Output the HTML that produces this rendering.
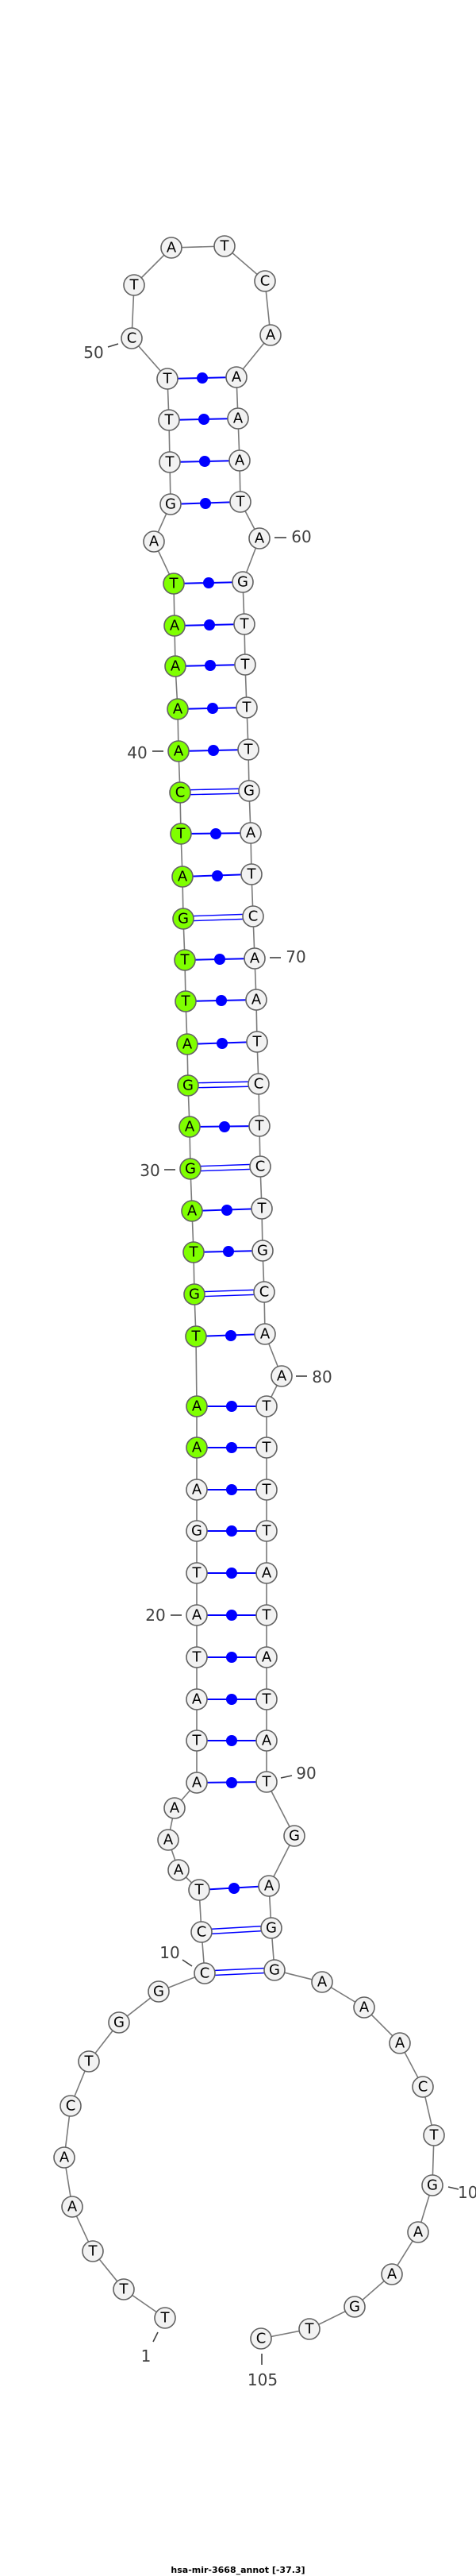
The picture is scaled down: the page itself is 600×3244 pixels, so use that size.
<!DOCTYPE html>
<html><head><meta charset="utf-8"><style>
html,body{margin:0;padding:0;background:#fff;}
svg{display:block;}
.bb{stroke:#7a7a7a;stroke-width:1.6;fill:none;}
.pr{stroke:#0000ff;stroke-width:2;}
.pd{stroke:#0000ff;stroke-width:1.4;}
.dt{fill:#0000ff;}
.n circle{fill:#f2f2f2;stroke:#626262;stroke-width:1.6;}
.n circle.g{fill:#7fff00;}
.n text{font-family:"DejaVu Sans","Liberation Sans",sans-serif;font-size:18px;text-anchor:middle;dominant-baseline:central;fill:#000;}
.lb{font-family:"DejaVu Sans","Liberation Sans",sans-serif;font-size:20px;fill:#404040;text-anchor:middle;dominant-baseline:central;}
.tk{stroke:#404040;stroke-width:1.6;}
.tt{font-family:"DejaVu Sans","Liberation Sans",sans-serif;font-size:11px;font-weight:bold;fill:#000;text-anchor:middle;}
</style></head><body>
<svg width="600" height="3244" viewBox="0 0 600 3244" xmlns="http://www.w3.org/2000/svg">
<polyline class="bb" points="208,2919 156,2883 117,2835 91,2779 81,2717 89,2652 112,2596 150,2547 200,2508 258,2485 254,2433 251,2380 225,2355 212,2317 220,2277 248,2245 248,2192 248,2140 248,2087 248,2034 248,1981 248,1928 248,1876 248,1823 248,1771 247,1683 245,1630 244,1577 242,1525 240,1472 239,1419 237,1367 236,1315 234,1261 233,1209 231,1157 230,1104 228,1050 227,998 225,946 224,893 221,839 220,788 219,735 194,682 215,635 214,582 213,529 211,477 166,426 169,359 216,312 283,310 334,354 341,422 298,475 300,527 302,580 303,632 327,678 306,733 308,786 309,837 311,891 313,944 314,996 316,1049 317,1101 319,1154 321,1207 323,1259 324,1312 326,1365 327,1418 328,1469 330,1522 331,1575 333,1627 334,1680 355,1733 336,1771 336,1823 336,1876 336,1928 336,1981 336,2034 336,2087 336,2140 336,2192 336,2244 371,2312 339,2375 342,2428 346,2481 406,2496 459,2528 504,2573 533,2628 547,2689 545,2752 527,2811 494,2864 447,2905 390,2933 329,2945"/>
<!-- double pairs (GC) -->
<g class="pd">
<line x1="258" y1="2482" x2="346" y2="2478"/><line x1="258" y1="2488" x2="346" y2="2484"/>
<line x1="254" y1="2430" x2="342" y2="2425"/><line x1="254" y1="2436" x2="342" y2="2431"/>
<line x1="245" y1="1627" x2="333" y2="1624"/><line x1="245" y1="1633" x2="333" y2="1630"/>
<line x1="240" y1="1469" x2="328" y2="1466"/><line x1="240" y1="1475" x2="328" y2="1472"/>
<line x1="237" y1="1364" x2="326" y2="1362"/><line x1="237" y1="1370" x2="326" y2="1368"/>
<line x1="231" y1="1154" x2="319" y2="1151"/><line x1="231" y1="1160" x2="319" y2="1157"/>
<line x1="227" y1="995" x2="314" y2="993"/><line x1="227" y1="1001" x2="314" y2="999"/>
</g>
<!-- dot pairs -->
<g class="pr">
<line x1="251" y1="2380" x2="339" y2="2375"/>
<line x1="248" y1="2245" x2="336" y2="2244"/>
<line x1="248" y1="2192" x2="336" y2="2192"/>
<line x1="248" y1="2140" x2="336" y2="2140"/>
<line x1="248" y1="2087" x2="336" y2="2087"/>
<line x1="248" y1="2034" x2="336" y2="2034"/>
<line x1="248" y1="1981" x2="336" y2="1981"/>
<line x1="248" y1="1928" x2="336" y2="1928"/>
<line x1="248" y1="1876" x2="336" y2="1876"/>
<line x1="248" y1="1823" x2="336" y2="1823"/>
<line x1="248" y1="1771" x2="336" y2="1771"/>
<line x1="247" y1="1683" x2="334" y2="1680"/>
<line x1="244" y1="1577" x2="331" y2="1575"/>
<line x1="242" y1="1525" x2="330" y2="1522"/>
<line x1="239" y1="1419" x2="327" y2="1418"/>
<line x1="236" y1="1315" x2="324" y2="1312"/>
<line x1="234" y1="1261" x2="323" y2="1259"/>
<line x1="233" y1="1209" x2="321" y2="1207"/>
<line x1="230" y1="1104" x2="317" y2="1101"/>
<line x1="228" y1="1050" x2="316" y2="1049"/>
<line x1="225" y1="946" x2="313" y2="944"/>
<line x1="224" y1="893" x2="311" y2="891"/>
<line x1="221" y1="839" x2="309" y2="837"/>
<line x1="220" y1="788" x2="308" y2="786"/>
<line x1="219" y1="735" x2="306" y2="733"/>
<line x1="215" y1="635" x2="303" y2="632"/>
<line x1="214" y1="582" x2="302" y2="580"/>
<line x1="213" y1="529" x2="300" y2="527"/>
<line x1="211" y1="477" x2="298" y2="475"/>
</g>
<g class="dt">
<circle cx="295" cy="2378" r="7"/>
<circle cx="292" cy="2245" r="7"/><circle cx="292" cy="2192" r="7"/><circle cx="292" cy="2140" r="7"/><circle cx="292" cy="2087" r="7"/><circle cx="292" cy="2034" r="7"/><circle cx="292" cy="1981" r="7"/><circle cx="292" cy="1928" r="7"/><circle cx="292" cy="1876" r="7"/><circle cx="292" cy="1823" r="7"/><circle cx="292" cy="1771" r="7"/>
<circle cx="291" cy="1682" r="7"/><circle cx="288" cy="1576" r="7"/><circle cx="286" cy="1524" r="7"/><circle cx="283" cy="1419" r="7"/><circle cx="280" cy="1314" r="7"/><circle cx="279" cy="1260" r="7"/><circle cx="277" cy="1208" r="7"/><circle cx="274" cy="1103" r="7"/><circle cx="272" cy="1050" r="7"/><circle cx="269" cy="945" r="7"/><circle cx="268" cy="892" r="7"/><circle cx="265" cy="838" r="7"/><circle cx="264" cy="787" r="7"/><circle cx="263" cy="734" r="7"/><circle cx="259" cy="634" r="7"/><circle cx="258" cy="581" r="7"/><circle cx="257" cy="528" r="7"/><circle cx="255" cy="476" r="7"/>
</g>
<!-- nodes -->
<g class="n">
<circle cx="208" cy="2919" r="13"/><text x="208" y="2919">T</text>
<circle cx="156" cy="2883" r="13"/><text x="156" y="2883">T</text>
<circle cx="117" cy="2835" r="13"/><text x="117" y="2835">T</text>
<circle cx="91" cy="2779" r="13"/><text x="91" y="2779">A</text>
<circle cx="81" cy="2717" r="13"/><text x="81" y="2717">A</text>
<circle cx="89" cy="2652" r="13"/><text x="89" y="2652">C</text>
<circle cx="112" cy="2596" r="13"/><text x="112" y="2596">T</text>
<circle cx="150" cy="2547" r="13"/><text x="150" y="2547">G</text>
<circle cx="200" cy="2508" r="13"/><text x="200" y="2508">G</text>
<circle cx="258" cy="2485" r="13"/><text x="258" y="2485">C</text>
<circle cx="254" cy="2433" r="13"/><text x="254" y="2433">C</text>
<circle cx="251" cy="2380" r="13"/><text x="251" y="2380">T</text>
<circle cx="225" cy="2355" r="13"/><text x="225" y="2355">A</text>
<circle cx="212" cy="2317" r="13"/><text x="212" y="2317">A</text>
<circle cx="220" cy="2277" r="13"/><text x="220" y="2277">A</text>
<circle cx="248" cy="2245" r="13"/><text x="248" y="2245">A</text>
<circle cx="248" cy="2192" r="13"/><text x="248" y="2192">T</text>
<circle cx="248" cy="2140" r="13"/><text x="248" y="2140">A</text>
<circle cx="248" cy="2087" r="13"/><text x="248" y="2087">T</text>
<circle cx="248" cy="2034" r="13"/><text x="248" y="2034">A</text>
<circle cx="248" cy="1981" r="13"/><text x="248" y="1981">T</text>
<circle cx="248" cy="1928" r="13"/><text x="248" y="1928">G</text>
<circle cx="248" cy="1876" r="13"/><text x="248" y="1876">A</text>
<circle class="g" cx="248" cy="1823" r="13"/><text x="248" y="1823">A</text>
<circle class="g" cx="248" cy="1771" r="13"/><text x="248" y="1771">A</text>
<circle class="g" cx="247" cy="1683" r="13"/><text x="247" y="1683">T</text>
<circle class="g" cx="245" cy="1630" r="13"/><text x="245" y="1630">G</text>
<circle class="g" cx="244" cy="1577" r="13"/><text x="244" y="1577">T</text>
<circle class="g" cx="242" cy="1525" r="13"/><text x="242" y="1525">A</text>
<circle class="g" cx="240" cy="1472" r="13"/><text x="240" y="1472">G</text>
<circle class="g" cx="239" cy="1419" r="13"/><text x="239" y="1419">A</text>
<circle class="g" cx="237" cy="1367" r="13"/><text x="237" y="1367">G</text>
<circle class="g" cx="236" cy="1315" r="13"/><text x="236" y="1315">A</text>
<circle class="g" cx="234" cy="1261" r="13"/><text x="234" y="1261">T</text>
<circle class="g" cx="233" cy="1209" r="13"/><text x="233" y="1209">T</text>
<circle class="g" cx="231" cy="1157" r="13"/><text x="231" y="1157">G</text>
<circle class="g" cx="230" cy="1104" r="13"/><text x="230" y="1104">A</text>
<circle class="g" cx="228" cy="1050" r="13"/><text x="228" y="1050">T</text>
<circle class="g" cx="227" cy="998" r="13"/><text x="227" y="998">C</text>
<circle class="g" cx="225" cy="946" r="13"/><text x="225" y="946">A</text>
<circle class="g" cx="224" cy="893" r="13"/><text x="224" y="893">A</text>
<circle class="g" cx="221" cy="839" r="13"/><text x="221" y="839">A</text>
<circle class="g" cx="220" cy="788" r="13"/><text x="220" y="788">A</text>
<circle class="g" cx="219" cy="735" r="13"/><text x="219" y="735">T</text>
<circle cx="194" cy="682" r="13"/><text x="194" y="682">A</text>
<circle cx="215" cy="635" r="13"/><text x="215" y="635">G</text>
<circle cx="214" cy="582" r="13"/><text x="214" y="582">T</text>
<circle cx="213" cy="529" r="13"/><text x="213" y="529">T</text>
<circle cx="211" cy="477" r="13"/><text x="211" y="477">T</text>
<circle cx="166" cy="426" r="13"/><text x="166" y="426">C</text>
<circle cx="169" cy="359" r="13"/><text x="169" y="359">T</text>
<circle cx="216" cy="312" r="13"/><text x="216" y="312">A</text>
<circle cx="283" cy="310" r="13"/><text x="283" y="310">T</text>
<circle cx="334" cy="354" r="13"/><text x="334" y="354">C</text>
<circle cx="341" cy="422" r="13"/><text x="341" y="422">A</text>
<circle cx="298" cy="475" r="13"/><text x="298" y="475">A</text>
<circle cx="300" cy="527" r="13"/><text x="300" y="527">A</text>
<circle cx="302" cy="580" r="13"/><text x="302" y="580">A</text>
<circle cx="303" cy="632" r="13"/><text x="303" y="632">T</text>
<circle cx="327" cy="678" r="13"/><text x="327" y="678">A</text>
<circle cx="306" cy="733" r="13"/><text x="306" y="733">G</text>
<circle cx="308" cy="786" r="13"/><text x="308" y="786">T</text>
<circle cx="309" cy="837" r="13"/><text x="309" y="837">T</text>
<circle cx="311" cy="891" r="13"/><text x="311" y="891">T</text>
<circle cx="313" cy="944" r="13"/><text x="313" y="944">T</text>
<circle cx="314" cy="996" r="13"/><text x="314" y="996">G</text>
<circle cx="316" cy="1049" r="13"/><text x="316" y="1049">A</text>
<circle cx="317" cy="1101" r="13"/><text x="317" y="1101">T</text>
<circle cx="319" cy="1154" r="13"/><text x="319" y="1154">C</text>
<circle cx="321" cy="1207" r="13"/><text x="321" y="1207">A</text>
<circle cx="323" cy="1259" r="13"/><text x="323" y="1259">A</text>
<circle cx="324" cy="1312" r="13"/><text x="324" y="1312">T</text>
<circle cx="326" cy="1365" r="13"/><text x="326" y="1365">C</text>
<circle cx="327" cy="1418" r="13"/><text x="327" y="1418">T</text>
<circle cx="328" cy="1469" r="13"/><text x="328" y="1469">C</text>
<circle cx="330" cy="1522" r="13"/><text x="330" y="1522">T</text>
<circle cx="331" cy="1575" r="13"/><text x="331" y="1575">G</text>
<circle cx="333" cy="1627" r="13"/><text x="333" y="1627">C</text>
<circle cx="334" cy="1680" r="13"/><text x="334" y="1680">A</text>
<circle cx="355" cy="1733" r="13"/><text x="355" y="1733">A</text>
<circle cx="336" cy="1771" r="13"/><text x="336" y="1771">T</text>
<circle cx="336" cy="1823" r="13"/><text x="336" y="1823">T</text>
<circle cx="336" cy="1876" r="13"/><text x="336" y="1876">T</text>
<circle cx="336" cy="1928" r="13"/><text x="336" y="1928">T</text>
<circle cx="336" cy="1981" r="13"/><text x="336" y="1981">A</text>
<circle cx="336" cy="2034" r="13"/><text x="336" y="2034">T</text>
<circle cx="336" cy="2087" r="13"/><text x="336" y="2087">A</text>
<circle cx="336" cy="2140" r="13"/><text x="336" y="2140">T</text>
<circle cx="336" cy="2192" r="13"/><text x="336" y="2192">A</text>
<circle cx="336" cy="2244" r="13"/><text x="336" y="2244">T</text>
<circle cx="371" cy="2312" r="13"/><text x="371" y="2312">G</text>
<circle cx="339" cy="2375" r="13"/><text x="339" y="2375">A</text>
<circle cx="342" cy="2428" r="13"/><text x="342" y="2428">G</text>
<circle cx="346" cy="2481" r="13"/><text x="346" y="2481">G</text>
<circle cx="406" cy="2496" r="13"/><text x="406" y="2496">A</text>
<circle cx="459" cy="2528" r="13"/><text x="459" y="2528">A</text>
<circle cx="504" cy="2573" r="13"/><text x="504" y="2573">A</text>
<circle cx="533" cy="2628" r="13"/><text x="533" y="2628">C</text>
<circle cx="547" cy="2689" r="13"/><text x="547" y="2689">T</text>
<circle cx="545" cy="2752" r="13"/><text x="545" y="2752">G</text>
<circle cx="527" cy="2811" r="13"/><text x="527" y="2811">A</text>
<circle cx="494" cy="2864" r="13"/><text x="494" y="2864">A</text>
<circle cx="447" cy="2905" r="13"/><text x="447" y="2905">G</text>
<circle cx="390" cy="2933" r="13"/><text x="390" y="2933">T</text>
<circle cx="329" cy="2945" r="13"/><text x="329" y="2945">C</text>
</g>
<!-- number labels -->
<g class="tk">
<line x1="199" y1="2937" x2="193" y2="2949"/>
<line x1="230" y1="2468" x2="242" y2="2476"/>
<line x1="215" y1="2034" x2="229" y2="2034"/>
<line x1="207" y1="1473" x2="221" y2="1473"/>
<line x1="192" y1="946" x2="206" y2="946"/>
<line x1="136" y1="437" x2="149" y2="433"/>
<line x1="346" y1="677" x2="361" y2="677"/>
<line x1="340" y1="1206" x2="354" y2="1206"/>
<line x1="373" y1="1733" x2="387" y2="1733"/>
<line x1="354" y1="2239" x2="368" y2="2236"/>
<line x1="565" y1="2754" x2="578" y2="2757"/>
<line x1="330" y1="2964" x2="330" y2="2978"/>
</g>
<text class="lb" x="184" y="2967">1</text>
<text class="lb" x="214" y="2459">10</text>
<text class="lb" x="196" y="2034">20</text>
<text class="lb" x="189" y="1474">30</text>
<text class="lb" x="173" y="948">40</text>
<text class="lb" x="118" y="444">50</text>
<text class="lb" x="380" y="676">60</text>
<text class="lb" x="373" y="1205">70</text>
<text class="lb" x="406" y="1734">80</text>
<text class="lb" x="386" y="2233">90</text>
<text class="lb" x="577" y="2761" style="text-anchor:start">100</text>
<text class="lb" x="331" y="2997">105</text>
<text class="tt" x="300" y="3240">hsa-mir-3668_annot [-37.3]</text>
</svg>
</body></html>
